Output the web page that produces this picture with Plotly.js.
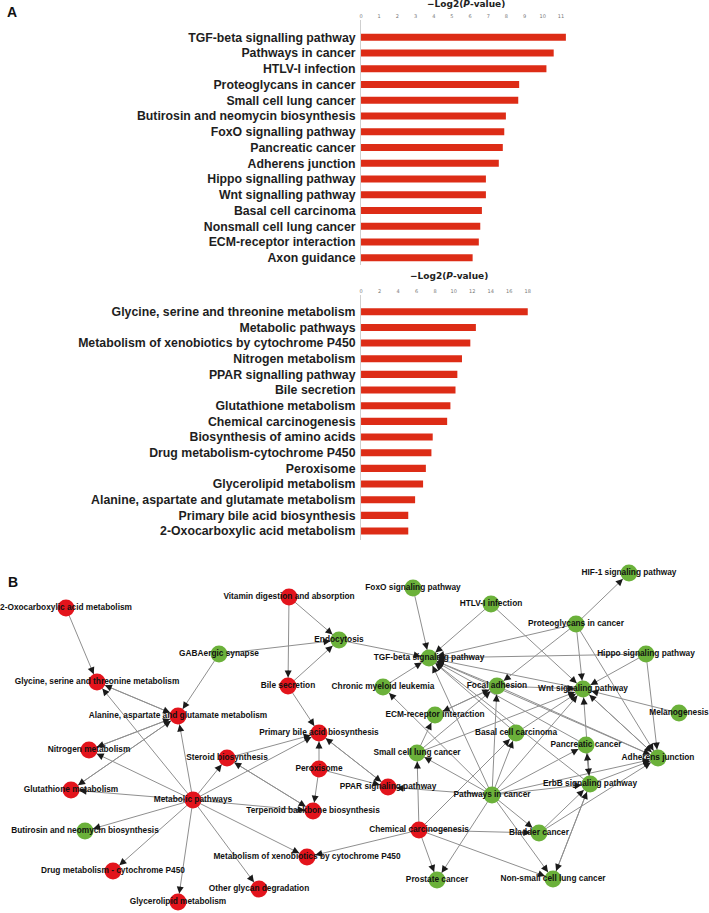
<!DOCTYPE html>
<html>
<head>
<meta charset="utf-8">
<script src="https://cdn.plot.ly/plotly-3.0.1.min.js"></script>
<style>
  html, body { margin: 0; padding: 0; background: #fff; }
  #chart { width: 709px; height: 913px; }
</style>
</head>
<body>
<div id="chart"></div>
<script>
// panel A, upper list
const topPathways = [
    'TGF-beta signalling pathway', 'Pathways in cancer', 'HTLV-I infection',
    'Proteoglycans in cancer', 'Small cell lung cancer', 'Butirosin and neomycin biosynthesis',
    'FoxO signalling pathway', 'Pancreatic cancer', 'Adherens junction',
    'Hippo signalling pathway', 'Wnt signalling pathway', 'Basal cell carcinoma',
    'Nonsmall cell lung cancer', 'ECM-receptor interaction', 'Axon guidance'
];
const topValues = [11.27, 10.6, 10.2, 8.7, 8.65, 7.97, 7.88, 7.8, 7.58, 6.87, 6.87, 6.65, 6.56, 6.48, 6.14];
const topTicks = [0, 1, 2, 3, 4, 5, 6, 7, 8, 9, 10, 11];

// panel A, lower list
const bottomPathways = [
    'Glycine, serine and threonine metabolism', 'Metabolic pathways',
    'Metabolism of xenobiotics by cytochrome P450', 'Nitrogen metabolism',
    'PPAR signalling pathway', 'Bile secretion', 'Glutathione metabolism',
    'Chemical carcinogenesis', 'Biosynthesis of amino acids', 'Drug metabolism-cytochrome P450',
    'Peroxisome', 'Glycerolipid metabolism', 'Alanine, aspartate and glutamate metabolism',
    'Primary bile acid biosynthesis', '2-Oxocarboxylic acid metabolism'
];
const bottomValues = [18.0, 12.4, 11.8, 10.9, 10.4, 10.2, 9.65, 9.3, 7.74, 7.6, 7.0, 6.7, 5.84, 5.1, 5.1];
const bottomTicks = [0, 2, 4, 6, 8, 10, 12, 14, 16, 18];

// panel B, network nodes (layout position)
const nodeNames = [
    '2-Oxocarboxylic acid metabolism', 'Vitamin digestion and absorption',
    'Glycine, serine and threonine metabolism', 'Bile secretion',
    'Alanine, aspartate and glutamate metabolism', 'Nitrogen metabolism',
    'Primary bile acid biosynthesis', 'Steroid biosynthesis', 'Peroxisome',
    'Glutathione metabolism', 'Metabolic pathways', 'Terpenoid backbone biosynthesis',
    'Metabolism of xenobiotics by cytochrome P450', 'Drug metabolism - cytochrome P450',
    'Other glycan degradation', 'Glycerolipid metabolism', 'PPAR signaling pathway',
    'Chemical carcinogenesis',
    'Endocytosis', 'GABAergic synapse', 'Butirosin and neomycin biosynthesis',
    'HIF-1 signaling pathway', 'FoxO signaling pathway', 'HTLV-I infection',
    'Proteoglycans in cancer', 'TGF-beta signaling pathway', 'Hippo signaling pathway',
    'Chronic myeloid leukemia', 'Focal adhesion', 'Wnt signaling pathway',
    'ECM-receptor interaction', 'Melanogenesis', 'Basal cell carcinoma', 'Pancreatic cancer',
    'Small cell lung cancer', 'Adherens junction', 'ErbB signaling pathway',
    'Pathways in cancer', 'Bladder cancer', 'Prostate cancer', 'Non-small cell lung cancer'
];
const nodeX = [66, 289, 97, 288, 178, 89, 319, 227, 319, 71, 193, 313, 307, 113, 259, 178, 388, 419,
    339, 219, 85, 629, 413, 491, 576, 429, 646, 383, 497, 583, 435, 679, 516, 586, 417, 658, 590, 492, 539, 437, 553];
const nodeY = [608, 597, 682, 686, 716, 750, 733, 758, 769, 790, 800, 811, 857, 871, 889, 902, 787, 830,
    640, 654, 831, 573, 588, 604, 624, 658, 654, 687, 686, 689, 715, 713, 733, 745, 753, 758, 784, 795, 833, 880, 879];
const nodeGroup = [
    'lower', 'lower', 'lower', 'lower', 'lower', 'lower', 'lower', 'lower', 'lower',
    'lower', 'lower', 'lower', 'lower', 'lower', 'lower', 'lower', 'lower', 'lower',
    'upper', 'upper', 'upper', 'upper', 'upper', 'upper', 'upper', 'upper', 'upper',
    'upper', 'upper', 'upper', 'upper', 'upper', 'upper', 'upper', 'upper', 'upper',
    'upper', 'upper', 'upper', 'upper', 'upper'
];

// directed edges: edgeFrom[i] -> edgeTo[i]
const edgeFrom = [
    '2-Oxocarboxylic acid metabolism', 'Glycine, serine and threonine metabolism',
    'Alanine, aspartate and glutamate metabolism', 'Metabolic pathways', 'GABAergic synapse',
    'GABAergic synapse', 'Nitrogen metabolism', 'Alanine, aspartate and glutamate metabolism',
    'Glutathione metabolism', 'Alanine, aspartate and glutamate metabolism',
    'Metabolic pathways', 'Metabolic pathways', 'Metabolic pathways', 'Metabolic pathways',
    'Metabolic pathways', 'Metabolic pathways', 'Metabolic pathways', 'Metabolic pathways',
    'Metabolic pathways', 'Metabolic pathways', 'Metabolic pathways',
    'Steroid biosynthesis', 'Terpenoid backbone biosynthesis', 'Steroid biosynthesis',
    'Peroxisome', 'Peroxisome', 'Peroxisome', 'Vitamin digestion and absorption',
    'Vitamin digestion and absorption', 'Bile secretion', 'Bile secretion',
    'PPAR signaling pathway', 'Primary bile acid biosynthesis', 'Pathways in cancer',
    'Chemical carcinogenesis', 'Chemical carcinogenesis', 'Chemical carcinogenesis',
    'Chemical carcinogenesis', 'Chemical carcinogenesis', 'Chemical carcinogenesis',
    'Endocytosis',
    'FoxO signaling pathway', 'HTLV-I infection', 'HTLV-I infection',
    'Proteoglycans in cancer', 'Proteoglycans in cancer', 'Proteoglycans in cancer',
    'Proteoglycans in cancer', 'Proteoglycans in cancer',
    'Hippo signaling pathway', 'Hippo signaling pathway', 'Hippo signaling pathway',
    'Melanogenesis', 'Chronic myeloid leukemia', 'Focal adhesion', 'Wnt signaling pathway',
    'ECM-receptor interaction', 'Focal adhesion', 'Focal adhesion',
    'Small cell lung cancer', 'Small cell lung cancer', 'Small cell lung cancer',
    'Pathways in cancer', 'Pathways in cancer', 'Pathways in cancer', 'Pathways in cancer',
    'Pathways in cancer', 'Pathways in cancer', 'Pathways in cancer', 'Pathways in cancer',
    'Pathways in cancer', 'Pathways in cancer', 'Pathways in cancer', 'Pathways in cancer',
    'Basal cell carcinoma', 'Basal cell carcinoma', 'Pancreatic cancer', 'Pancreatic cancer',
    'ErbB signaling pathway', 'ErbB signaling pathway', 'ErbB signaling pathway',
    'ErbB signaling pathway', 'Bladder cancer', 'Bladder cancer',
    'Non-small cell lung cancer', 'ErbB signaling pathway', 'Wnt signaling pathway',
    'Adherens junction', 'Focal adhesion', 'Adherens junction'
];
const edgeTo = [
    'Glycine, serine and threonine metabolism', 'Alanine, aspartate and glutamate metabolism',
    'Glycine, serine and threonine metabolism', 'Glycine, serine and threonine metabolism',
    'Alanine, aspartate and glutamate metabolism',
    'Endocytosis', 'Alanine, aspartate and glutamate metabolism', 'Nitrogen metabolism',
    'Alanine, aspartate and glutamate metabolism', 'Glutathione metabolism',
    'Alanine, aspartate and glutamate metabolism', 'Nitrogen metabolism', 'Glutathione metabolism',
    'Butirosin and neomycin biosynthesis', 'Drug metabolism - cytochrome P450',
    'Glycerolipid metabolism', 'Other glycan degradation',
    'Metabolism of xenobiotics by cytochrome P450', 'Steroid biosynthesis',
    'Primary bile acid biosynthesis', 'Terpenoid backbone biosynthesis',
    'Terpenoid backbone biosynthesis', 'Steroid biosynthesis', 'Primary bile acid biosynthesis',
    'Primary bile acid biosynthesis', 'Terpenoid backbone biosynthesis', 'PPAR signaling pathway',
    'Endocytosis', 'Bile secretion', 'Endocytosis', 'Primary bile acid biosynthesis',
    'Primary bile acid biosynthesis', 'PPAR signaling pathway', 'PPAR signaling pathway',
    'Metabolism of xenobiotics by cytochrome P450', 'Small cell lung cancer',
    'Basal cell carcinoma', 'Prostate cancer', 'Bladder cancer', 'Non-small cell lung cancer',
    'TGF-beta signaling pathway',
    'TGF-beta signaling pathway', 'TGF-beta signaling pathway', 'Wnt signaling pathway',
    'TGF-beta signaling pathway', 'HIF-1 signaling pathway', 'Focal adhesion',
    'Wnt signaling pathway', 'Adherens junction',
    'TGF-beta signaling pathway', 'Wnt signaling pathway', 'Adherens junction',
    'Wnt signaling pathway', 'TGF-beta signaling pathway', 'TGF-beta signaling pathway',
    'TGF-beta signaling pathway', 'Focal adhesion', 'ECM-receptor interaction',
    'Wnt signaling pathway',
    'Focal adhesion', 'ECM-receptor interaction', 'Wnt signaling pathway',
    'TGF-beta signaling pathway', 'Focal adhesion', 'Chronic myeloid leukemia',
    'Wnt signaling pathway', 'Small cell lung cancer', 'Basal cell carcinoma',
    'Pancreatic cancer', 'ErbB signaling pathway', 'Adherens junction', 'Bladder cancer',
    'Non-small cell lung cancer', 'Prostate cancer',
    'TGF-beta signaling pathway', 'Wnt signaling pathway', 'TGF-beta signaling pathway',
    'ErbB signaling pathway',
    'Pancreatic cancer', 'Adherens junction', 'Non-small cell lung cancer',
    'TGF-beta signaling pathway', 'ErbB signaling pathway', 'Adherens junction',
    'ErbB signaling pathway', 'Wnt signaling pathway', 'Adherens junction',
    'Wnt signaling pathway', 'Adherens junction', 'TGF-beta signaling pathway'
];

const barRed = '#dd2c16';
const groupColor = { upper: '#6bb13a', lower: '#e3141c' };
const labelFont = { family: 'Liberation Sans, Arial, sans-serif', size: 12.3, color: '#1e1e1e', weight: 'bold' };

const topBars = {
    type: 'bar', orientation: 'h',
    x: topValues, y: topPathways,
    xaxis: 'x', yaxis: 'y',
    width: 0.45,
    marker: { color: barRed },
    hoverinfo: 'x+y'
};

const bottomBars = {
    type: 'bar', orientation: 'h',
    x: bottomValues, y: bottomPathways,
    xaxis: 'x2', yaxis: 'y2',
    width: 0.45,
    marker: { color: barRed },
    hoverinfo: 'x+y'
};

// network edges as one line trace, arrowheads as annotations
const nodeIndex = {};
nodeNames.forEach((n, i) => { nodeIndex[n] = i; });

const edgeX = [], edgeY = [];
const arrowHeads = [];
edgeFrom.forEach((src, i) => {
    const a = nodeIndex[src], b = nodeIndex[edgeTo[i]];
    edgeX.push(nodeX[a], nodeX[b], null);
    edgeY.push(nodeY[a], nodeY[b], null);
    const dx = nodeX[a] - nodeX[b], dy = nodeY[a] - nodeY[b];
    const len = Math.hypot(dx, dy);
    arrowHeads.push({
        x: nodeX[b], y: nodeY[b], xref: 'x3', yref: 'y3',
        ax: dx / len * 17, ay: dy / len * 17,
        text: '', showarrow: true,
        arrowhead: 2, arrowsize: 1.4, arrowwidth: 1,
        arrowcolor: '#1a1a1a', standoff: 8.5
    });
});

const edges = {
    type: 'scatter', mode: 'lines',
    x: edgeX, y: edgeY,
    xaxis: 'x3', yaxis: 'y3',
    line: { color: '#8f8f8f', width: 1 },
    hoverinfo: 'skip'
};

const nodes = {
    type: 'scatter', mode: 'markers+text',
    x: nodeX, y: nodeY, text: nodeNames,
    xaxis: 'x3', yaxis: 'y3',
    textposition: 'middle center',
    textfont: { family: 'Liberation Sans, Arial, sans-serif', size: 8.3, color: '#111', weight: 'bold' },
    marker: { size: 17, color: nodeGroup.map(g => groupColor[g]), line: { width: 0 } },
    hoverinfo: 'text'
};

const axisTitle = '<b>\u2212Log2(<i>P</i>-value)</b>';

const layout = {
    width: 709, height: 913,
    margin: { l: 0, r: 0, t: 0, b: 0 },
    paper_bgcolor: '#fff', plot_bgcolor: 'rgba(0,0,0,0)',
    showlegend: false,
    bargap: 0.5,
    xaxis: {
        domain: [0.5092, 0.8066], range: [0, 11.6], anchor: 'y', side: 'top',
        tickvals: topTicks, showgrid: false, zeroline: false, showline: false, ticks: '',
        tickfont: { family: 'DejaVu Sans, sans-serif', size: 5, color: '#777' }
    },
    yaxis: {
        domain: [0.7097, 0.9781], type: 'category', range: [14.46, -1.1], anchor: 'x',
        showgrid: false, zeroline: false, showline: true, linecolor: '#cfcfcf', linewidth: 1,
        ticks: '', ticklabelstandoff: 2, tickfont: labelFont
    },
    xaxis2: {
        domain: [0.5092, 0.7522], range: [0, 18.6], anchor: 'y2', side: 'top',
        tickvals: bottomTicks, showgrid: false, zeroline: false, showline: false, ticks: '',
        tickfont: { family: 'DejaVu Sans, sans-serif', size: 5, color: '#777' }
    },
    yaxis2: {
        domain: [0.4086, 0.6769], type: 'category', range: [14.57, -1.07], anchor: 'x2',
        showgrid: false, zeroline: false, showline: true, linecolor: '#cfcfcf', linewidth: 1,
        ticks: '', ticklabelstandoff: 2, tickfont: labelFont
    },
    xaxis3: {
        domain: [0, 1], range: [0, 709], anchor: 'y3',
        visible: false, fixedrange: true
    },
    yaxis3: {
        domain: [0, 0.3866], range: [913, 560], anchor: 'x3',
        visible: false, fixedrange: true
    },
    annotations: [
        { text: '<b>A</b>', x: 12 / 709, y: 1 - 12 / 913, xref: 'paper', yref: 'paper',
          xanchor: 'center', yanchor: 'middle',
          showarrow: false, font: { family: 'Liberation Sans, Arial', size: 14, color: '#111' } },
        { text: '<b>B</b>', x: 13 / 709, y: 1 - 582 / 913, xref: 'paper', yref: 'paper',
          xanchor: 'center', yanchor: 'middle',
          showarrow: false, font: { family: 'Liberation Sans, Arial', size: 14, color: '#111' } },
        { text: axisTitle, x: 466 / 709, y: 1 - 4 / 913, xref: 'paper', yref: 'paper',
          xanchor: 'center', yanchor: 'middle',
          showarrow: false, font: { family: 'DejaVu Sans, sans-serif', size: 9, color: '#222' } },
        { text: axisTitle, x: 449 / 709, y: 1 - 276 / 913, xref: 'paper', yref: 'paper',
          xanchor: 'center', yanchor: 'middle',
          showarrow: false, font: { family: 'DejaVu Sans, sans-serif', size: 9, color: '#222' } }
    ].concat(arrowHeads)
};

Plotly.newPlot('chart', [topBars, bottomBars, edges, nodes], layout, { displayModeBar: false, staticPlot: true });
</script>
</body>
</html>
